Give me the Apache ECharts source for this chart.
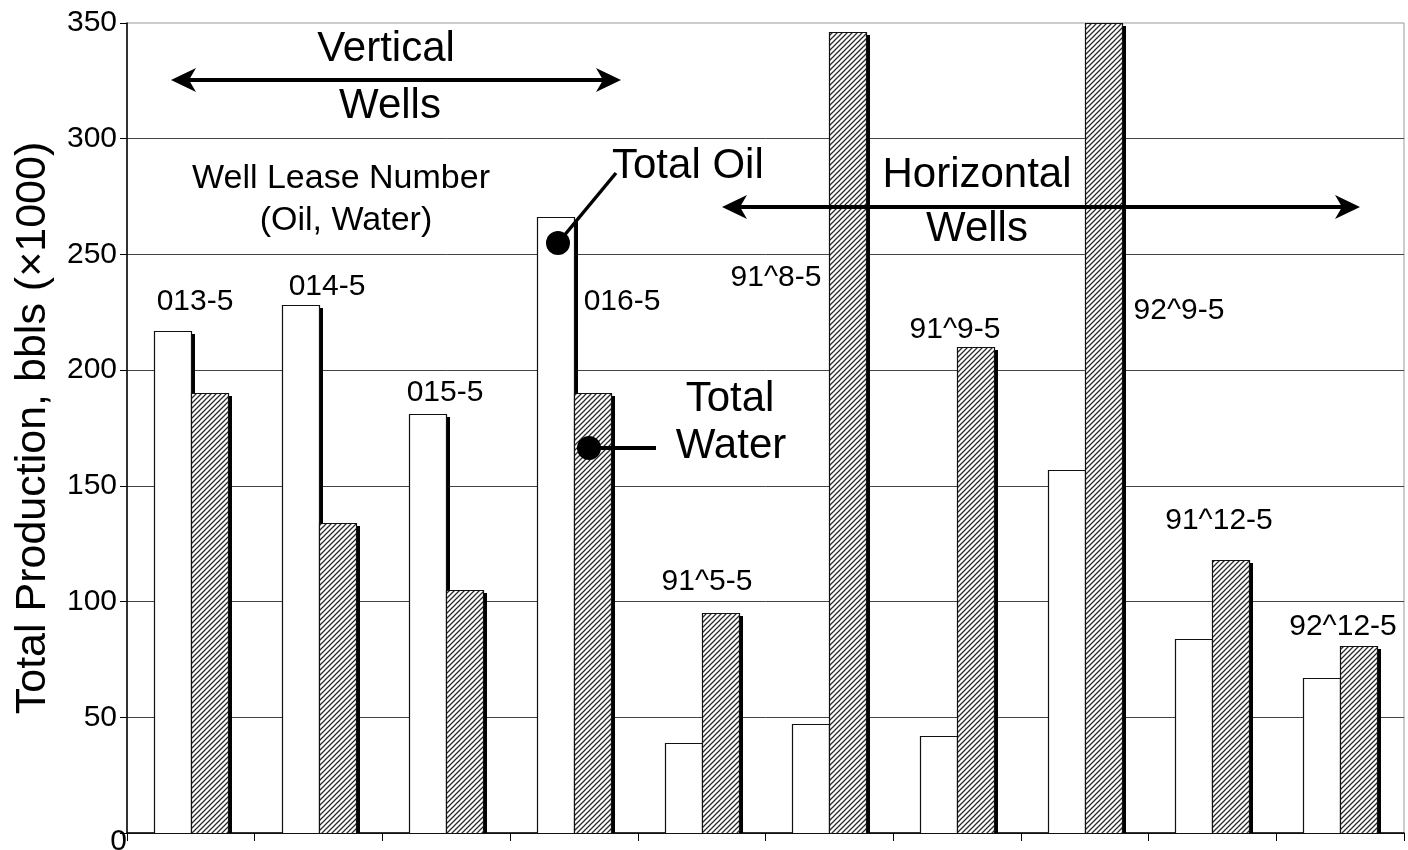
<!DOCTYPE html>
<html>
<head>
<meta charset="utf-8">
<script src="https://cdn.jsdelivr.net/npm/echarts@6/dist/echarts.min.js"></script>
<style>
html,body{margin:0;padding:0;background:#fff;}
#chart{width:1408px;height:850px;}
</style>
</head>
<body>
<div id="chart"></div>
<script>
// ---- data ----
const categories = ['013-5', '014-5', '015-5', '016-5', '91^5-5', '91^8-5', '91^9-5', '92^9-5', '91^12-5', '92^12-5'];
const oilValues = [217, 228, 181, 266, 39, 47, 42, 157, 84, 67];
const waterValues = [190, 134, 105, 190, 95, 346, 210, 350, 118, 81];
const yTicks = [0, 50, 100, 150, 200, 250, 300, 350];

// ---- label placement (pixels) ----
const wellLabelPos = [
  [195, 302], [327, 287], [445, 393], [622, 302], [707, 582],
  [776, 278], [955, 330], [1179, 311], [1219, 521], [1343, 627]
];

const FONT = "'Liberation Sans', Arial, sans-serif";

function makeHatch() {
  const c = document.createElement('canvas');
  c.width = 5; c.height = 5;
  const ctx = c.getContext('2d');
  ctx.fillStyle = '#fff';
  ctx.fillRect(0, 0, 5, 5);
  ctx.strokeStyle = '#2a2a2a';
  ctx.lineWidth = 1.25;
  ctx.beginPath();
  ctx.moveTo(-1, 6); ctx.lineTo(6, -1);
  ctx.moveTo(-1, 1); ctx.lineTo(1, -1);
  ctx.moveTo(4, 6); ctx.lineTo(6, 4);
  ctx.stroke();
  return c;
}

function arrow(x1, x2, y) {
  const L = 25, h = 12, n = 7;
  return [
    { type: 'line', z: 100, shape: { x1: x1 + L - n, y1: y, x2: x2 - L + n, y2: y }, style: { stroke: '#000', lineWidth: 4 } },
    { type: 'polygon', z: 100, shape: { points: [[x1, y], [x1 + L, y - h], [x1 + L - n, y], [x1 + L, y + h]] }, style: { fill: '#000' } },
    { type: 'polygon', z: 100, shape: { points: [[x2, y], [x2 - L, y - h], [x2 - L + n, y], [x2 - L, y + h]] }, style: { fill: '#000' } }
  ];
}

function txt(text, x, y, size, align) {
  return {
    type: 'text', z: 100, x: x, y: y,
    style: { text: text, font: size + 'px ' + FONT, fill: '#000', align: align || 'center', verticalAlign: 'middle' }
  };
}

const chart = echarts.init(document.getElementById('chart'), null, { renderer: 'canvas' });
const hatch = { image: makeHatch(), repeat: 'repeat' };

// bars drawn through the category / value scales, with a hard offset drop shadow
function barRenderer(fill, side) {
  return function (params, api) {
    const idx = api.value(0);
    const v = api.value(1);
    const base = api.coord([idx, 0]);
    const top = api.coord([idx, v]);
    const band = api.size([1, 0])[0];
    const w = Math.round(band * 0.29);
    const x = Math.round(base[0]) - w + side * w;
    const yTop = Math.round(top[1]);
    const yBot = Math.round(base[1]);
    const h = yBot - yTop;
    return {
      type: 'group',
      children: [
        { type: 'rect', shape: { x: x + 4, y: yTop + 3, width: w, height: h - 3 }, style: { fill: '#000' } },
        { type: 'rect', shape: { x: x + 0.5, y: yTop + 0.5, width: w, height: h }, style: { fill: fill, stroke: '#111', lineWidth: 1.2 } }
      ]
    };
  };
}

const graphics = [];
categories.forEach((c, i) => graphics.push(txt(c, wellLabelPos[i][0], wellLabelPos[i][1], 30)));
graphics.push(...arrow(171, 621, 80));
graphics.push(...arrow(722, 1360, 207));
graphics.push(txt('Vertical', 386, 49, 42));
graphics.push(txt('Wells', 390, 106, 42));
graphics.push(txt('Horizontal', 977, 175, 42));
graphics.push(txt('Wells', 977, 229, 42));
graphics.push(txt('Well Lease Number', 341, 179, 34));
graphics.push(txt('(Oil, Water)', 346, 221, 34));
graphics.push(txt('Total Oil', 612, 166, 42, 'left'));
graphics.push(txt('Total', 730, 399, 42));
graphics.push(txt('Water', 731, 446, 42));
graphics.push({ type: 'line', z: 100, shape: { x1: 558, y1: 243, x2: 616, y2: 173 }, style: { stroke: '#000', lineWidth: 3.5 } });
graphics.push({ type: 'circle', z: 101, shape: { cx: 558, cy: 243, r: 12 }, style: { fill: '#000' } });
graphics.push({ type: 'line', z: 100, shape: { x1: 589, y1: 448, x2: 656, y2: 448 }, style: { stroke: '#000', lineWidth: 4 } });
graphics.push({ type: 'circle', z: 101, shape: { cx: 589, cy: 448, r: 12 }, style: { fill: '#000' } });
graphics.push(txt('0', 127, 842, 30, 'right'));

const option = {
  backgroundColor: '#fff',
  animation: false,
  grid: { left: 127, right: 4, top: 23, bottom: 17, show: true, borderColor: '#999', borderWidth: 1, backgroundColor: 'transparent' },
  xAxis: {
    type: 'category',
    data: categories,
    boundaryGap: true,
    axisLine: { show: true, lineStyle: { color: '#000', width: 1.5 } },
    axisTick: { show: true, length: 8, inside: false, lineStyle: { color: '#000', width: 1 } },
    axisLabel: { show: false },
    splitLine: { show: false }
  },
  yAxis: {
    type: 'value',
    min: 0, max: 350, interval: 50,
    name: 'Total Production, bbls (\u00d71000)',
    nameLocation: 'middle',
    nameGap: 72,
    nameRotate: 90,
    nameTextStyle: { fontFamily: FONT, fontSize: 43, color: '#000' },
    axisLine: { show: true, lineStyle: { color: '#000', width: 1.5 } },
    axisTick: { show: true, length: 7, inside: false, lineStyle: { color: '#000', width: 1 } },
    axisLabel: {
      fontFamily: FONT, fontSize: 30, color: '#000', margin: 10,
      formatter: function (v) { return (v === 0 || yTicks.indexOf(v) < 0) ? '' : String(v); }
    },
    splitLine: { show: true, showMaxLine: false, lineStyle: { color: '#444', width: 1 } }
  },
  series: [
    {
      name: 'Total Oil',
      type: 'custom',
      clip: true,
      renderItem: barRenderer('#fff', 0),
      encode: { x: 0, y: 1 },
      data: oilValues.map((v, i) => [i, v]),
      z: 2
    },
    {
      name: 'Total Water',
      type: 'custom',
      clip: true,
      renderItem: barRenderer(hatch, 1),
      encode: { x: 0, y: 1 },
      data: waterValues.map((v, i) => [i, v]),
      z: 3
    }
  ],
  graphic: { elements: graphics }
};

chart.setOption(option);
</script>
</body>
</html>
